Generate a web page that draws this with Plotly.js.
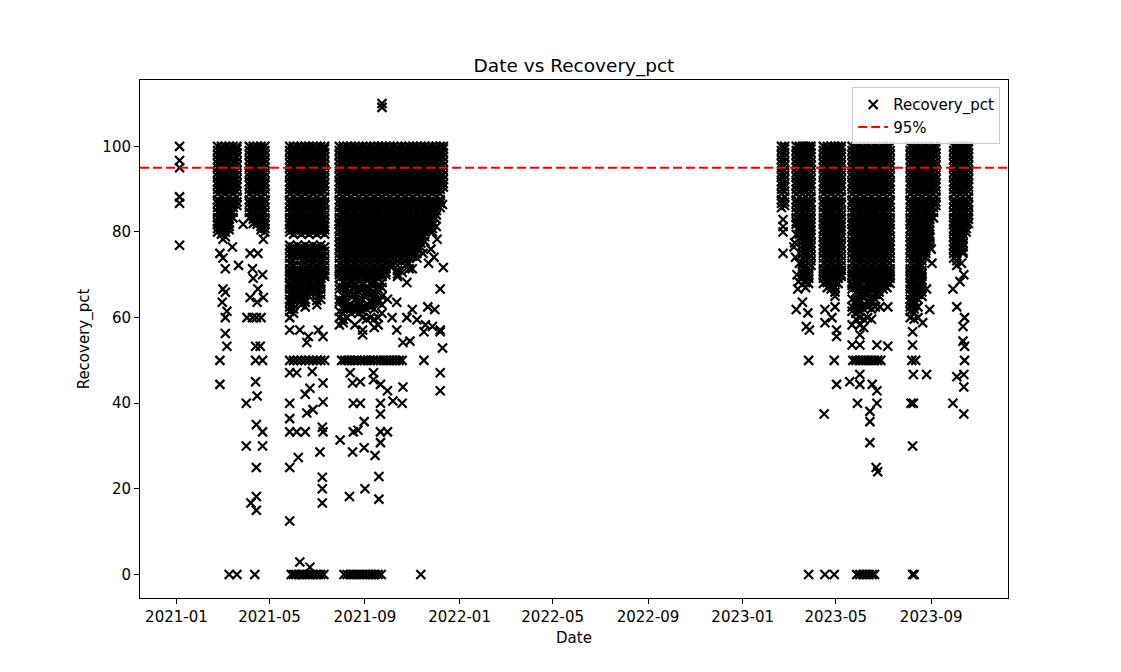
<!DOCTYPE html>
<html>
<head>
<meta charset="utf-8">
<script src="https://cdn.plot.ly/plotly-3.0.1.min.js"></script>
<style>html,body{margin:0;padding:0;background:#fff;}#chart{width:1121px;height:672px;}</style>
</head>
<body>
<div id="chart"></div>
<script>
// ---------- tick labels ----------
const xTickDates = ["2021-01-01","2021-05-01","2021-09-01","2022-01-01","2022-05-01","2022-09-01","2023-01-01","2023-05-01","2023-09-01"];
const xTickLabels = ["2021-01","2021-05","2021-09","2022-01","2022-05","2022-09","2023-01","2023-05","2023-09"];
const yTickValues = [0,20,40,60,80,100];
const yTickLabels = ["0","20","40","60","80","100"];
const thresholdValue = 95;
const xRange = ["2020-11-15","2023-12-09"];

// ---------- dense clusters: one date per column, the values observed in that column ----------
const blockA_dates = ["2021-02-23","2021-02-28","2021-03-05","2021-03-10","2021-03-15","2021-03-20"];
const blockA_vals = [
 [100,99,98,96.9,96,95,93.8,92.9,91.7,90.9,90,88.9,87.5,86.7,85.7,84.6,83.3,82.4,81.8,80.8,80],
 [100,99.4,98.5,97.5,96.4,95.5,94.4,93.3,92.3,91.3,90.5,89.5,88.2,87,86.2,85,84,83,82,81.3,80.5,79.5],
 [100,99,98,96.9,96,95,93.8,92.9,91.7,90.9,90,88.9,87.5,86.7,85.7,84.6,83.3,82.4,81.8,80.8,80,78.9],
 [100,99.4,98.5,97.5,96.4,95.5,94.4,93.3,92.3,91.3,90.5,89.5,88.2,87,86.2,85,84,83,82,81.3,80.5],
 [100,99,98,96.9,96,95,93.8,92.9,91.7,90.9,90,88.9,87.5,86.7,85.7,84.6,83.3],
 [100,99.4,98.5,97.5,96.4,95.5,94.4,93.3,92.3,91.3,90.5,89.5,88.2,87,86.2]
];
const blockB_dates = ["2021-04-05","2021-04-10","2021-04-15","2021-04-20","2021-04-25"];
const blockB_vals = [
 [100,99,98,96.9,96,95,93.8,92.9,91.7,90.9,90,88.9,87.5,86.7,85.7,84.6,83.3],
 [100,99.4,98.5,97.5,96.4,95.5,94.4,93.3,92.3,91.3,90.5,89.5,88.2,87,86.2,85,84,83,82],
 [100,99,98,96.9,96,95,93.8,92.9,91.7,90.9,90,88.9,87.5,86.7,85.7,84.6,83.3,82.4,81.8],
 [100,99.4,98.5,97.5,96.4,95.5,94.4,93.3,92.3,91.3,90.5,89.5,88.2,87,86.2,85,84,83,82,81.3,80.5],
 [100,99,98,96.9,96,95,93.8,92.9,91.7,90.9,90,88.9,87.5,86.7,85.7,84.6,83.3,82.4,81.8,80.8,80]
];
const blockC_dates = ["2021-05-27","2021-06-01","2021-06-06","2021-06-11","2021-06-16","2021-06-21","2021-06-26","2021-07-01","2021-07-06","2021-07-11"];
const blockC_vals = [
 [100,99,98,96.9,96,95,93.8,92.9,91.7,90.9,90,88.9,87.5,86.7,85.7,84.6,83.3,82.4,81.8,80.8,80,76.9,76,75,73.9,72.7,71.4,70.6,70,69.2,68,67.5,66.7,65.4,64.3,63.6,62.5,61.5,60],
 [100,99.4,98.5,97.5,96.4,95.5,94.4,93.3,92.3,91.3,90.5,89.5,88.2,87,86.2,85,84,83,82,81.3,80.5,79.5,76.5,75.5,74.4,73.3,72.2,71,70.2,69.6,68.8,68.2,67,66,65,64,63,62,61],
 [100,99,98,96.9,96,95,93.8,92.9,91.7,90.9,90,88.9,87.5,86.7,85.7,84.6,83.3,82.4,81.8,80.8,80,76.9,76,75,71.4,70.6,70,69.2,68,67.5,66.7,65.4,64.3],
 [100,99.4,98.5,97.5,96.4,95.5,94.4,93.3,92.3,91.3,90.5,89.5,88.2,87,86.2,85,84,83,82,81.3,80.5,79.5,76.5,75.5,74.4,73.3,72.2,71,70.2,69.6,68.8,68.2,67,66,65,64,63],
 [100,99,98,96.9,96,95,93.8,92.9,91.7,90.9,90,88.9,87.5,86.7,85.7,84.6,83.3,82.4,81.8,80.8,80,76.9,76,75,73.9,72.7,71.4,70.6,70,69.2,68,67.5,66.7,65.4,64.3,63.6,62.5],
 [100,99.4,98.5,97.5,96.4,95.5,94.4,93.3,92.3,91.3,90.5,89.5,88.2,87,86.2,85,84,83,82,81.3,80.5,79.5,76.5,75.5,74.4,73.3,72.2,70.2,69.6,68.8,68.2,67,66,65],
 [100,99,98,96.9,96,95,93.8,92.9,91.7,90.9,90,88.9,87.5,86.7,85.7,84.6,83.3,82.4,81.8,80.8,80,76.9,76,75,73.9,72.7,71.4,70.6,70,69.2,68,67.5,66.7],
 [100,99.4,98.5,97.5,96.4,95.5,94.4,93.3,92.3,91.3,90.5,89.5,88.2,87,86.2,85,84,83,82,81.3,80.5,79.5,76.5,75.5,74.4,73.3,72.2,71,70.2,69.6,68.2,67,66,65,64,63],
 [100,99,98,96.9,96,95,93.8,92.9,91.7,90.9,90,88.9,87.5,86.7,85.7,84.6,83.3,82.4,81.8,80.8,80,76.9,76,75,73.9,72.7,71.4,70.6,70,69.2,68,67.5,66.7,65.4,64.3],
 [100,99.4,98.5,97.5,96.4,95.5,94.4,93.3,92.3,91.3,90.5,89.5,88.2,87,86.2,85,84,83,82,81.3,80.5,79.5,76.5,75.5,74.4,73.3,72.2,71,70.2,69.6]
];
const blockD_dates = ["2021-07-30","2021-08-04","2021-08-09","2021-08-14","2021-08-19","2021-08-24","2021-08-29","2021-09-03","2021-09-08","2021-09-13","2021-09-18","2021-09-23","2021-09-28","2021-10-03","2021-10-08","2021-10-13","2021-10-18","2021-10-23","2021-10-28","2021-11-02","2021-11-07","2021-11-12","2021-11-17","2021-11-22","2021-11-27","2021-12-02","2021-12-07","2021-12-11"];
const blockD_vals = [
 [100,99,98,96.9,96,95,93.8,92.9,91.7,90.9,90,88.9,87.5,86.7,85.7,84.6,83.3,82.4,81.8,80.8,80,78.9,77.8,76.9,76,75,73.9,72.7,71.4,70.6,70,69.2,67.5,66.7,64.3,63.6,61.5,60,58.3],
 [100,99.4,98.5,97.5,96.4,95.5,94.4,93.3,92.3,91.3,90.5,89.5,88.2,87,86.2,85,84,83,82,81.3,80.5,79.5,78.6,77.4,76.5,75.5,74.4,73.3,72.2,71,70.2,69.6,68.2,67,65,64,62,61,59.6,58.8],
 [100,99,98,96.9,96,95,93.8,92.9,91.7,90.9,90,88.9,87.5,86.7,85.7,84.6,83.3,82.4,81.8,80.8,80,78.9,77.8,76.9,76,75,73.9,72.7,71.4,70.6,70,69.2,68,66.7,65.4,63.6,62.5,60],
 [100,99.4,98.5,97.5,96.4,95.5,94.4,93.3,92.3,91.3,90.5,89.5,88.2,87,86.2,85,84,83,82,81.3,80.5,79.5,78.6,77.4,76.5,75.5,74.4,73.3,72.2,71,70.2,68.8,68.2,66,65,63,62,61],
 [100,99,98,96.9,96,95,93.8,92.9,91.7,90.9,90,88.9,87.5,86.7,85.7,84.6,83.3,82.4,81.8,80.8,80,78.9,77.8,76.9,76,75,73.9,72.7,71.4,70.6,70,69.2,68,67.5,65.4,64.3,62.5,61.5,58.3],
 [100,99.4,98.5,97.5,96.4,95.5,94.4,93.3,92.3,91.3,90.5,89.5,88.2,87,86.2,85,84,83,82,81.3,80.5,79.5,78.6,77.4,76.5,75.5,74.4,73.3,72.2,71,70.2,69.6,67,66,64,63,61],
 [100,99,98,96.9,96,95,93.8,92.9,91.7,90.9,90,88.9,87.5,86.7,85.7,84.6,83.3,82.4,81.8,80.8,80,78.9,77.8,76.9,76,75,73.9,72.7,71.4,70.6,70,68,67.5,66.7,64.3,62.5,61.5,60,57.1,56],
 [100,99.4,98.5,97.5,96.4,95.5,94.4,93.3,92.3,91.3,90.5,89.5,88.2,87,86.2,85,84,83,82,81.3,80.5,79.5,78.6,77.4,76.5,75.5,74.4,73.3,72.2,71,70.2,69.6,68.8,67,66,65,63,62,59.6],
 [100,99,98,96.9,96,95,93.8,92.9,91.7,90.9,90,88.9,87.5,86.7,85.7,84.6,83.3,82.4,81.8,80.8,80,78.9,77.8,76.9,76,75,73.9,72.7,71.4,70.6,70,69.2,68,66.7,65.4,63.6,62.5,60],
 [100,99.4,98.5,97.5,96.4,95.5,94.4,93.3,92.3,91.3,90.5,89.5,88.2,87,86.2,85,84,83,82,81.3,80.5,79.5,78.6,77.4,76.5,75.5,74.4,73.3,72.2,71,70.2,68.8,68.2,66,65,64,62,59.6,57.7],
 [100,99,98,96.9,96,95,93.8,92.9,91.7,90.9,90,88.9,87.5,86.7,85.7,84.6,83.3,82.4,81.8,80.8,80,78.9,77.8,76.9,76,75,73.9,72.7,71.4,70.6,70,69.2,67.5,66.7,64.3,63.6,60,58.3],
 [100,99.4,98.5,97.5,96.4,95.5,94.4,93.3,92.3,91.3,90.5,89.5,88.2,87,86.2,85,84,83,82,81.3,80.5,79.5,78.6,77.4,76.5,75.5,74.4,73.3,72.2,71,70.2,69.6,68.2,67,65,63,61],
 [100,99,98,96.9,96,95,93.8,92.9,91.7,90.9,90,88.9,87.5,86.7,85.7,84.6,83.3,82.4,81.8,80.8,80,78.9,77.8,76.9,76,75,73.9,72.7,71.4,70.6,70],
 [100,99.4,98.5,97.5,96.4,95.5,94.4,93.3,92.3,91.3,90.5,89.5,88.2,87,86.2,85,84,83,82,81.3,80.5,79.5,78.6,77.4,76.5,75.5,74.4,73.3,72.2],
 [100,99,98,96.9,96,95,93.8,92.9,91.7,90.9,90,88.9,87.5,86.7,85.7,84.6,83.3,82.4,81.8,80.8,80,78.9,77.8,76.9,76,75,73.9],
 [100,99.4,98.5,97.5,96.4,95.5,94.4,93.3,92.3,91.3,90.5,89.5,88.2,87,86.2,85,84,83,82,81.3,80.5,79.5,78.6,77.4,76.5,75.5,74.4,73.3,72.2,71,70.2,69.6],
 [100,99,98,96.9,96,95,93.8,92.9,91.7,90.9,90,88.9,87.5,86.7,85.7,84.6,83.3,82.4,81.8,80.8,80,78.9,77.8,76.9,76,75,73.9],
 [100,99.4,98.5,97.5,96.4,95.5,94.4,93.3,92.3,91.3,90.5,89.5,88.2,87,86.2,85,84,83,82,81.3,80.5,79.5,78.6,77.4,76.5,75.5,74.4,73.3,72.2],
 [100,99,98,96.9,96,95,93.8,92.9,91.7,90.9,90,88.9,87.5,86.7,85.7,84.6,83.3,82.4,81.8,80.8,80,78.9,77.8,76.9,76,75,73.9,72.7,71.4],
 [100,99.4,98.5,97.5,96.4,95.5,94.4,93.3,92.3,91.3,90.5,89.5,88.2,87,86.2,85,84,83,82,81.3,80.5,79.5,78.6,77.4,76.5,75.5,74.4],
 [100,99,98,96.9,96,95,93.8,92.9,91.7,90.9,90,88.9,87.5,86.7,85.7,84.6,83.3,82.4,81.8,80.8,80,78.9,77.8,76.9,76,75,73.9],
 [100,99.4,98.5,97.5,96.4,95.5,94.4,93.3,92.3,91.3,90.5,89.5,88.2,87,86.2,85,84,83,82,81.3,80.5,79.5,78.6,77.4,76.5],
 [100,99,98,96.9,96,95,93.8,92.9,91.7,90.9,90,88.9,87.5,86.7,85.7,84.6,83.3,82.4,81.8,80.8,80,78.9,77.8],
 [100,99.4,98.5,97.5,96.4,95.5,94.4,93.3,92.3,91.3,90.5,89.5,88.2,87,86.2,85,84,83,82,81.3,80.5],
 [100,99,98,96.9,96,95,93.8,92.9,91.7,90.9,90,88.9,87.5,86.7,85.7,84.6,83.3,82.4,81.8,80.8,80],
 [100,99.4,98.5,97.5,96.4,95.5,94.4,93.3,92.3,91.3,90.5,89.5,88.2,87,86.2,85,84],
 [100,99,98,96.9,96,95,93.8,92.9,91.7,90.9,90,88.9,87.5,86.7,85.7],
 [100,99.4,98.5,97.5,96.4,95.5,94.4,93.3,92.3,91.3,90.5]
];
const blockE_dates = ["2023-02-20","2023-02-24"];
const blockE_vals = [
 [100,99,98,96.9,96,95,93.8,92.9,91.7,90.9,90,88.9,87.5,86.7,85.7],
 [100,99.4,98.5,97.5,96.4,95.5,94.4,93.3,92.3,91.3,90.5,89.5,88.2,87,86.2]
];
const blockF_dates = ["2023-03-11","2023-03-15","2023-03-19","2023-03-23","2023-03-27","2023-03-30"];
const blockF_vals = [
 [100,99,98,96.9,96,95,93.8,92.9,91.7,90.9,90,88.9,87.5,86.7,85.7,84.6,83.3,82.4,81.8],
 [100,99.4,98.5,97.5,96.4,95.5,94.4,93.3,92.3,91.3,90.5,89.5,88.2,87,86.2,85,84,83,82,81.3,80.5,79.5],
 [100,99,98,96.9,96,95,93.8,92.9,91.7,90.9,90,88.9,87.5,86.7,85.7,84.6,83.3,82.4,81.8,80.8,80,78.9,77.8,76.9,76,75,73.9,72.7,71.4,70.6,70],
 [100,99.4,98.5,97.5,96.4,95.5,94.4,93.3,92.3,91.3,90.5,89.5,88.2,87,86.2,85,84,83,82,81.3,80.5,79.5,78.6,77.4,76.5,75.5,74.4,73.3,72.2,71,70.2,69.6,68.8,68.2,67],
 [100,99,98,96.9,96,95,93.8,92.9,91.7,90.9,90,88.9,87.5,86.7,85.7,84.6,83.3,82.4,81.8,80.8,80,78.9,77.8,76.9,76,75,73.9,72.7,71.4,70.6,70,69.2,68],
 [100,99.4,98.5,97.5,96.4,95.5,94.4,93.3,92.3,91.3,90.5,89.5,88.2,87,86.2,85,84,83,82,81.3,80.5,79.5,78.6,77.4,76.5,75.5,74.4,73.3,72.2]
];
const blockG_dates = ["2023-04-15","2023-04-20","2023-04-25","2023-04-30","2023-05-04","2023-05-08"];
const blockG_vals = [
 [100,99,98,96.9,96,95,93.8,92.9,91.7,90.9,90,88.9,87.5,86.7,85.7,84.6,83.3,82.4,81.8,80.8,80,78.9,77.8,76.9,76,75,73.9,72.7,71.4,70.6,70,69.2,68],
 [100,99.4,98.5,97.5,96.4,95.5,94.4,93.3,92.3,91.3,90.5,89.5,88.2,87,86.2,85,84,83,82,81.3,80.5,79.5,78.6,77.4,76.5,75.5,74.4,73.3,72.2,71,70.2,69.6,68.8,68.2,67],
 [100,99,98,96.9,96,95,93.8,92.9,91.7,90.9,90,88.9,87.5,86.7,85.7,84.6,83.3,82.4,81.8,80.8,80,78.9,77.8,76.9,76,75,73.9,72.7,71.4,70.6,70,69.2,68,67.5,66.7],
 [100,99.4,98.5,97.5,96.4,95.5,94.4,93.3,92.3,91.3,90.5,89.5,88.2,87,86.2,85,84,83,82,81.3,80.5,79.5,78.6,77.4,76.5,75.5,74.4,73.3,72.2,71,70.2,69.6,68.8,68.2,67,66,65],
 [100,99,98,96.9,96,95,93.8,92.9,91.7,90.9,90,88.9,87.5,86.7,85.7,84.6,83.3,82.4,81.8,80.8,80,78.9,77.8,76.9,76,75,73.9,72.7,71.4,70.6,70,69.2,68],
 [100,99.4,98.5,97.5,96.4,95.5,94.4,93.3,92.3,91.3,90.5,89.5,88.2,87,86.2,85,84,83,82,81.3,80.5,79.5,78.6,77.4,76.5,75.5,74.4,73.3,72.2,71,70.2,69.6]
];
const blockH_dates = ["2023-05-22","2023-05-27","2023-06-01","2023-06-06","2023-06-11","2023-06-16","2023-06-21","2023-06-26","2023-07-01","2023-07-06","2023-07-10"];
const blockH_vals = [
 [100,99,98,96.9,96,95,93.8,92.9,91.7,90.9,90,88.9,87.5,86.7,85.7,84.6,83.3,82.4,81.8,80.8,80,78.9,77.8,76.9,76,75,73.9,72.7,71.4,70.6,70,69.2,68,67.5,66.7,64.3,62.5,61.5,58.3],
 [100,99.4,98.5,97.5,96.4,95.5,94.4,93.3,92.3,91.3,90.5,89.5,88.2,87,86.2,85,84,83,82,81.3,80.5,79.5,78.6,77.4,76.5,75.5,74.4,73.3,72.2,71,70.2,69.6,68.8,68.2,67,66,64,63,61,59.6],
 [100,99,98,96.9,96,95,93.8,92.9,91.7,90.9,90,88.9,87.5,86.7,85.7,84.6,83.3,82.4,81.8,80.8,80,78.9,77.8,76.9,76,75,73.9,72.7,71.4,70.6,70,69.2,68,67.5,66.7,65.4,64.3,63.6,62.5,61.5,60,58.3,56],
 [100,99.4,98.5,97.5,96.4,95.5,94.4,93.3,92.3,91.3,90.5,89.5,88.2,87,86.2,85,84,83,82,81.3,80.5,79.5,78.6,77.4,76.5,75.5,74.4,73.3,72.2,71,70.2,69.6,68.8,67,66,65,63,62,59.6,57.7],
 [100,99,98,96.9,96,95,93.8,92.9,91.7,90.9,90,88.9,87.5,86.7,85.7,84.6,83.3,82.4,81.8,80.8,80,78.9,77.8,76.9,76,75,73.9,72.7,71.4,70.6,70,69.2,68,67.5,66.7,65.4,63.6,62.5,60],
 [100,99.4,98.5,97.5,96.4,95.5,94.4,93.3,92.3,91.3,90.5,89.5,88.2,87,86.2,85,84,83,82,81.3,80.5,79.5,78.6,77.4,76.5,75.5,74.4,73.3,72.2,71,70.2,69.6,68.8,68.2,67,65,64,62,59.6],
 [100,99,98,96.9,96,95,93.8,92.9,91.7,90.9,90,88.9,87.5,86.7,85.7,84.6,83.3,82.4,81.8,80.8,80,78.9,77.8,76.9,76,75,73.9,72.7,71.4,70.6,70,69.2,68,67.5,66.7,65.4,64.3,62.5],
 [100,99.4,98.5,97.5,96.4,95.5,94.4,93.3,92.3,91.3,90.5,89.5,88.2,87,86.2,85,84,83,82,81.3,80.5,79.5,78.6,77.4,76.5,75.5,74.4,73.3,72.2,71,70.2,69.6,68.8,68.2,67,66,65],
 [100,99,98,96.9,96,95,93.8,92.9,91.7,90.9,90,88.9,87.5,86.7,85.7,84.6,83.3,82.4,81.8,80.8,80,78.9,77.8,76.9,76,75,73.9,72.7,71.4,70.6,70,69.2,68,67.5,66.7],
 [100,99.4,98.5,97.5,96.4,95.5,94.4,93.3,92.3,91.3,90.5,89.5,88.2,87,86.2,85,84,83,82,81.3,80.5,79.5,78.6,77.4,76.5,75.5,74.4,73.3,72.2,71,70.2,69.6,68.8,68.2,67],
 [100,99,98,96.9,96,95,93.8,92.9,91.7,90.9,90,88.9,87.5,86.7,85.7,84.6,83.3,82.4,81.8,80.8,80,78.9,77.8,76.9,76,75,73.9,72.7,71.4,70.6,70,69.2,68]
];
const blockI_dates = ["2023-08-05","2023-08-10","2023-08-15","2023-08-20","2023-08-25","2023-08-30","2023-09-04","2023-09-07"];
const blockI_vals = [
 [100,99,98,96.9,96,95,93.8,92.9,91.7,90.9,90,88.9,87.5,86.7,85.7,84.6,83.3,82.4,81.8,80.8,80,78.9,77.8,76.9,76,75,73.9,72.7,71.4,70.6,70,69.2,68,67.5,66.7,65.4,64.3,63.6,62.5,61.5,60],
 [100,99.4,98.5,97.5,96.4,95.5,94.4,93.3,92.3,91.3,90.5,89.5,88.2,87,86.2,85,84,83,82,81.3,80.5,79.5,78.6,77.4,76.5,75.5,74.4,73.3,72.2,71,70.2,69.6,68.8,68.2,67,66,65,64,63,62,61,59.6],
 [100,99,98,96.9,96,95,93.8,92.9,91.7,90.9,90,88.9,87.5,86.7,85.7,84.6,83.3,82.4,81.8,80.8,80,78.9,77.8,76.9,76,75,73.9,72.7,71.4,70.6,70,69.2,68,67.5,66.7,65.4,64.3,62.5,60],
 [100,99.4,98.5,97.5,96.4,95.5,94.4,93.3,92.3,91.3,90.5,89.5,88.2,87,86.2,85,84,83,82,81.3,80.5,79.5,78.6,77.4,76.5,75.5,74.4,73.3,72.2,71,70.2,69.6,68.8,68.2,67,66,65],
 [100,99,98,96.9,96,95,93.8,92.9,91.7,90.9,90,88.9,87.5,86.7,85.7,84.6,83.3,82.4,81.8,80.8,80,78.9,77.8,76.9,76,75,73.9],
 [100,99.4,98.5,97.5,96.4,95.5,94.4,93.3,92.3,91.3,90.5,89.5,88.2,87,86.2,85,84,83,82,81.3,80.5,79.5,78.6,77.4,76.5],
 [100,99,98,96.9,96,95,93.8,92.9,91.7,90.9,90,88.9,87.5,86.7,85.7,84.6,83.3],
 [100,99.4,98.5,97.5,96.4,95.5,94.4,93.3,92.3,91.3,90.5,89.5,88.2,87,86.2]
];
const blockJ_dates = ["2023-09-30","2023-10-04","2023-10-08","2023-10-12","2023-10-16","2023-10-19"];
const blockJ_vals = [
 [100,99,98,96.9,96,95,93.8,92.9,91.7,90.9,90,88.9,87.5,86.7,85.7,84.6,83.3,82.4,81.8,80.8,80,78.9,77.8,76.9,76,75,73.9],
 [100,99.4,98.5,97.5,96.4,95.5,94.4,93.3,92.3,91.3,90.5,89.5,88.2,87,86.2,85,84,83,82,81.3,80.5,79.5,78.6,77.4,76.5,75.5,74.4,73.3,72.2],
 [100,99,98,96.9,96,95,93.8,92.9,91.7,90.9,90,88.9,87.5,86.7,85.7,84.6,83.3,82.4,81.8,80.8,80,78.9,77.8,76.9,76],
 [100,99.4,98.5,97.5,96.4,95.5,94.4,93.3,92.3,91.3,90.5,89.5,88.2,87,86.2,85,84,83,82,81.3,80.5,79.5,78.6,77.4,76.5,75.5],
 [100,99,98,96.9,96,95,93.8,92.9,91.7,90.9,90,88.9,87.5,86.7,85.7,84.6,83.3,82.4,81.8,80.8,80],
 [100,99.4,98.5,97.5,96.4,95.5,94.4,93.3,92.3,91.3,90.5,89.5,88.2,87,86.2,85,84,83,82]
];

// ---------- scattered individual observations ----------
const sparseDates = [
 "2021-01-05","2021-01-05","2021-01-05","2021-01-05","2021-01-05","2021-01-05",
 "2021-03-02","2021-03-14","2021-02-26","2021-03-02","2021-03-22","2021-03-05","2021-03-02","2021-03-05","2021-03-01","2021-03-07","2021-03-05","2021-03-05","2021-03-07","2021-02-26","2021-02-26",
 "2021-04-13","2021-04-19","2021-04-13","2021-04-22","2021-04-13","2021-04-01","2021-04-15","2021-04-14","2021-04-22","2021-04-01","2021-04-22","2021-04-14","2021-04-14","2021-04-07","2021-04-14",
 "2021-03-10","2021-03-20","2021-04-12",
 "2021-04-06","2021-04-16","2021-04-09","2021-04-22","2021-04-10","2021-04-16","2021-04-06","2021-04-15","2021-04-23","2021-04-02","2021-04-09","2021-04-14","2021-04-20","2021-04-23","2021-03-28",
 "2021-05-27","2021-06-09","2021-06-20","2021-07-03","2021-07-09","2021-06-18",
 "2021-05-27","2021-06-01","2021-06-06","2021-06-11","2021-06-16","2021-06-21","2021-06-26","2021-07-01","2021-07-06","2021-07-11",
 "2021-05-27","2021-06-05","2021-06-25","2021-06-22","2021-06-16","2021-07-09","2021-07-09","2021-05-27","2021-05-27","2021-06-18","2021-06-26","2021-05-27","2021-06-05","2021-06-16","2021-07-08","2021-07-09","2021-07-05","2021-06-07","2021-05-27","2021-07-08","2021-07-08","2021-07-08","2021-05-27",
 "2021-05-29","2021-06-01","2021-06-04","2021-06-08","2021-06-12","2021-06-15","2021-06-19","2021-06-22","2021-06-26","2021-06-30","2021-07-03","2021-07-06","2021-07-10","2021-06-09","2021-06-22",
 "2021-08-02","2021-08-06","2021-08-10","2021-08-14","2021-08-18","2021-08-22","2021-08-27","2021-08-31","2021-09-04","2021-09-08","2021-09-12","2021-09-17","2021-09-21","2021-09-25","2021-09-29","2021-10-03","2021-10-07","2021-10-11","2021-10-15","2021-10-19","2021-11-16",
 "2021-08-13","2021-09-12","2021-08-16","2021-08-26","2021-09-12","2021-09-21","2021-09-30","2021-10-20","2021-10-07","2021-10-19","2021-09-21","2021-09-21","2021-08-17","2021-08-26","2021-08-31","2021-08-17","2021-08-23","2021-09-21","2021-09-30","2021-09-21","2021-07-31","2021-08-16","2021-08-31","2021-09-14","2021-09-19","2021-09-01","2021-08-12","2021-09-19","2021-11-16","2021-12-07","2021-12-10","2021-12-07","2021-12-07",
 "2021-08-05","2021-08-09","2021-08-13","2021-08-17","2021-08-21","2021-08-25","2021-08-29","2021-09-02","2021-09-06","2021-09-10","2021-09-14","2021-09-18","2021-09-22","2021-11-12",
 "2021-09-23","2021-09-23",
 "2021-12-11","2021-12-07","2021-11-21","2021-11-30","2021-11-18","2021-11-27","2021-12-07",
 "2021-10-06","2021-10-19","2021-11-01","2021-10-25","2021-10-12","2021-09-30","2021-10-06","2021-10-25","2021-11-01","2021-11-07","2021-10-12","2021-10-29","2021-10-20",
 "2021-12-07","2021-12-10","2021-11-30","2021-12-03","2021-11-25","2021-11-29","2021-12-02","2021-11-22","2021-11-15",
 "2023-02-22","2023-02-22","2023-02-22","2023-02-22",
 "2023-03-09","2023-03-11","2023-03-15","2023-03-13","2023-03-11","2023-03-19","2023-03-26","2023-03-24","2023-03-28","2023-03-27","2023-03-27","2023-03-08","2023-03-10","2023-03-12","2023-03-14",
 "2023-04-17","2023-04-30","2023-04-17","2023-05-02","2023-04-26","2023-04-29","2023-05-02","2023-04-16","2023-05-02","2023-04-17","2023-04-29",
 "2023-05-22","2023-06-01","2023-06-23","2023-07-07",
 "2023-05-23","2023-05-27","2023-05-31","2023-06-04","2023-06-08","2023-06-12","2023-06-16","2023-06-20","2023-06-24","2023-06-28",
 "2023-06-01","2023-05-19","2023-06-01","2023-06-17","2023-06-23","2023-05-29","2023-06-23","2023-06-14","2023-06-14","2023-06-14","2023-06-22","2023-06-24","2023-06-27","2023-07-07",
 "2023-05-28","2023-06-01","2023-06-05","2023-06-09","2023-06-13","2023-06-17","2023-06-20",
 "2023-08-08","2023-08-08","2023-08-07","2023-08-12","2023-08-09","2023-08-26","2023-08-06","2023-08-09","2023-08-08","2023-08-08","2023-08-10","2023-08-30","2023-09-01","2023-09-02","2023-08-26","2023-08-30","2023-08-21",
 "2023-09-29","2023-10-04","2023-10-14","2023-10-12","2023-10-12","2023-10-14","2023-10-14","2023-10-04","2023-10-13","2023-10-13","2023-09-29","2023-10-13","2023-10-11","2023-10-12","2023-10-10","2023-10-13","2023-10-08"
];
const sparseVals = [
 100,96.7,95,88.2,86.7,76.9,
 78.3,76.5,75,73.9,72.2,71.4,66.7,65.9,63.6,61.5,60,56.3,53.3,50,44.4,
 53.3,53.3,50,50,45,40,41.7,35,33.3,30,30,25,18.2,16.7,15,
 0,0,0,
 75,75,71.4,70,69.2,66.7,64.7,63.6,64.7,60,60,60,60,78.3,81.8,
 57.1,57.1,55.6,57.1,55.6,54.2,
 50,50,50,50,50,50,50,50,50,50,
 47.1,47.1,47.4,43.5,42.1,44.7,40.3,40,36.4,37.7,38.5,33.3,33.3,33.3,34.4,33.3,28.6,27.3,25,22.7,20,16.7,12.5,
 0,0,0,0,0,0,0,0,0,0,0,0,0,2.9,1.7,
 50,50,50,50,50,50,50,50,50,50,50,50,50,50,50,50,50,50,50,50,50,
 47.1,47.1,44.7,45,45.5,44.4,42.9,43.8,40.5,40,40,37.5,40,40,35.7,33.3,33.7,33.3,33.3,30.8,31.4,28.6,29.6,27.8,22.9,20,18.2,17.6,56.7,56.7,52.9,47.1,42.9,
 0,0,0,0,0,0,0,0,0,0,0,0,0,0,
 110,109.1,
 71.7,66.7,62.5,61.9,58.3,57.9,57.1,
 71.9,70.6,71.4,68.2,63.6,64.3,60,60,61.9,59.5,57.1,54.5,54.2,
 87.5,86.4,83.3,78.3,76,74.1,81.3,72.7,75,
 82.9,81.3,80,75,
 77.5,79.4,72.7,66.7,61.9,63.6,61.1,57.9,57.1,50,0,76.5,74.1,70,68.4,
 61.9,62.5,58.8,57.1,60,50,44.4,37.5,55.6,0,0,
 53.6,53.6,53.6,53.3,
 50,50,50,50,50,50,50,50,50,50,
 46.7,45,44.4,44.4,42.9,40,40,38.1,35.7,30.8,25,24,62.5,62.5,
 0,0,0,0,0,0,0,
 56.7,53.6,50,50,46.7,46.7,40,40,30,0,0,78.9,76,72.7,66.7,61.9,58.8,
 66.7,62.5,60,57.9,54.5,53.3,50,46.2,46.7,43.8,40,37.5,78.3,75,72.7,70,68.4
];

// ---------- assemble the single scatter series ----------
const allX = [], allY = [];
function addColumns(dates, vals){
  dates.forEach(function(d, i){ vals[i].forEach(function(v){ allX.push(d); allY.push(v); }); });
}
addColumns(blockA_dates, blockA_vals);
addColumns(blockB_dates, blockB_vals);
addColumns(blockC_dates, blockC_vals);
addColumns(blockD_dates, blockD_vals);
addColumns(blockE_dates, blockE_vals);
addColumns(blockF_dates, blockF_vals);
addColumns(blockG_dates, blockG_vals);
addColumns(blockH_dates, blockH_vals);
addColumns(blockI_dates, blockI_vals);
addColumns(blockJ_dates, blockJ_vals);
sparseDates.forEach(function(d, i){ allX.push(d); allY.push(sparseVals[i]); });

const font = "DejaVu Sans, Liberation Sans, sans-serif";

const scatter = {
  type: "scatter", mode: "markers", name: "Recovery_pct",
  x: allX, y: allY,
  marker: { symbol: "x-thin", size: 9, color: "black", line: { color: "black", width: 2.2 } },
  hoverinfo: "x+y"
};
const threshold = {
  type: "scatter", mode: "lines", name: "95%",
  x: xRange, y: [thresholdValue, thresholdValue],
  line: { color: "red", width: 2, dash: "9px,4px" },
  hoverinfo: "skip"
};

const axisCommon = {
  showline: true, linecolor: "black", linewidth: 1, mirror: true,
  ticks: "outside", ticklen: 5, tickwidth: 1, tickcolor: "black",
  showgrid: false, zeroline: false,
  tickfont: { family: font, size: 15, color: "black" }
};

const layout = {
  width: 1121, height: 672,
  paper_bgcolor: "white", plot_bgcolor: "white",
  margin: { l: 140, r: 113, t: 80, b: 74, pad: 0 },
  font: { family: font, color: "black" },
  title: { text: "Date vs Recovery_pct", x: 0.5, xref: "paper", xanchor: "center",
           y: 0.903, yref: "container", yanchor: "middle",
           font: { family: font, size: 18.5, color: "black" } },
  xaxis: Object.assign({}, axisCommon, {
    type: "date", range: xRange, autorange: false,
    tickmode: "array", tickvals: xTickDates, ticktext: xTickLabels,
    title: { text: "Date", standoff: 7, font: { family: font, size: 15, color: "black" } }
  }),
  yaxis: Object.assign({}, axisCommon, {
    range: [-5.5, 115.5], autorange: false,
    tickmode: "array", tickvals: yTickValues, ticktext: yTickLabels,
    title: { text: "Recovery_pct", standoff: 9, font: { family: font, size: 15, color: "black" } }
  }),
  showlegend: true,
  legend: {
    x: 0.991, xanchor: "right", y: 0.986, yanchor: "top",
    bgcolor: "rgba(255,255,255,0.85)", bordercolor: "#cccccc", borderwidth: 1,
    font: { family: font, size: 15, color: "black" }, tracegroupgap: 0
  }
};

Plotly.newPlot("chart", [scatter, threshold], layout, { staticPlot: true, displayModeBar: false });
</script>
</body>
</html>
